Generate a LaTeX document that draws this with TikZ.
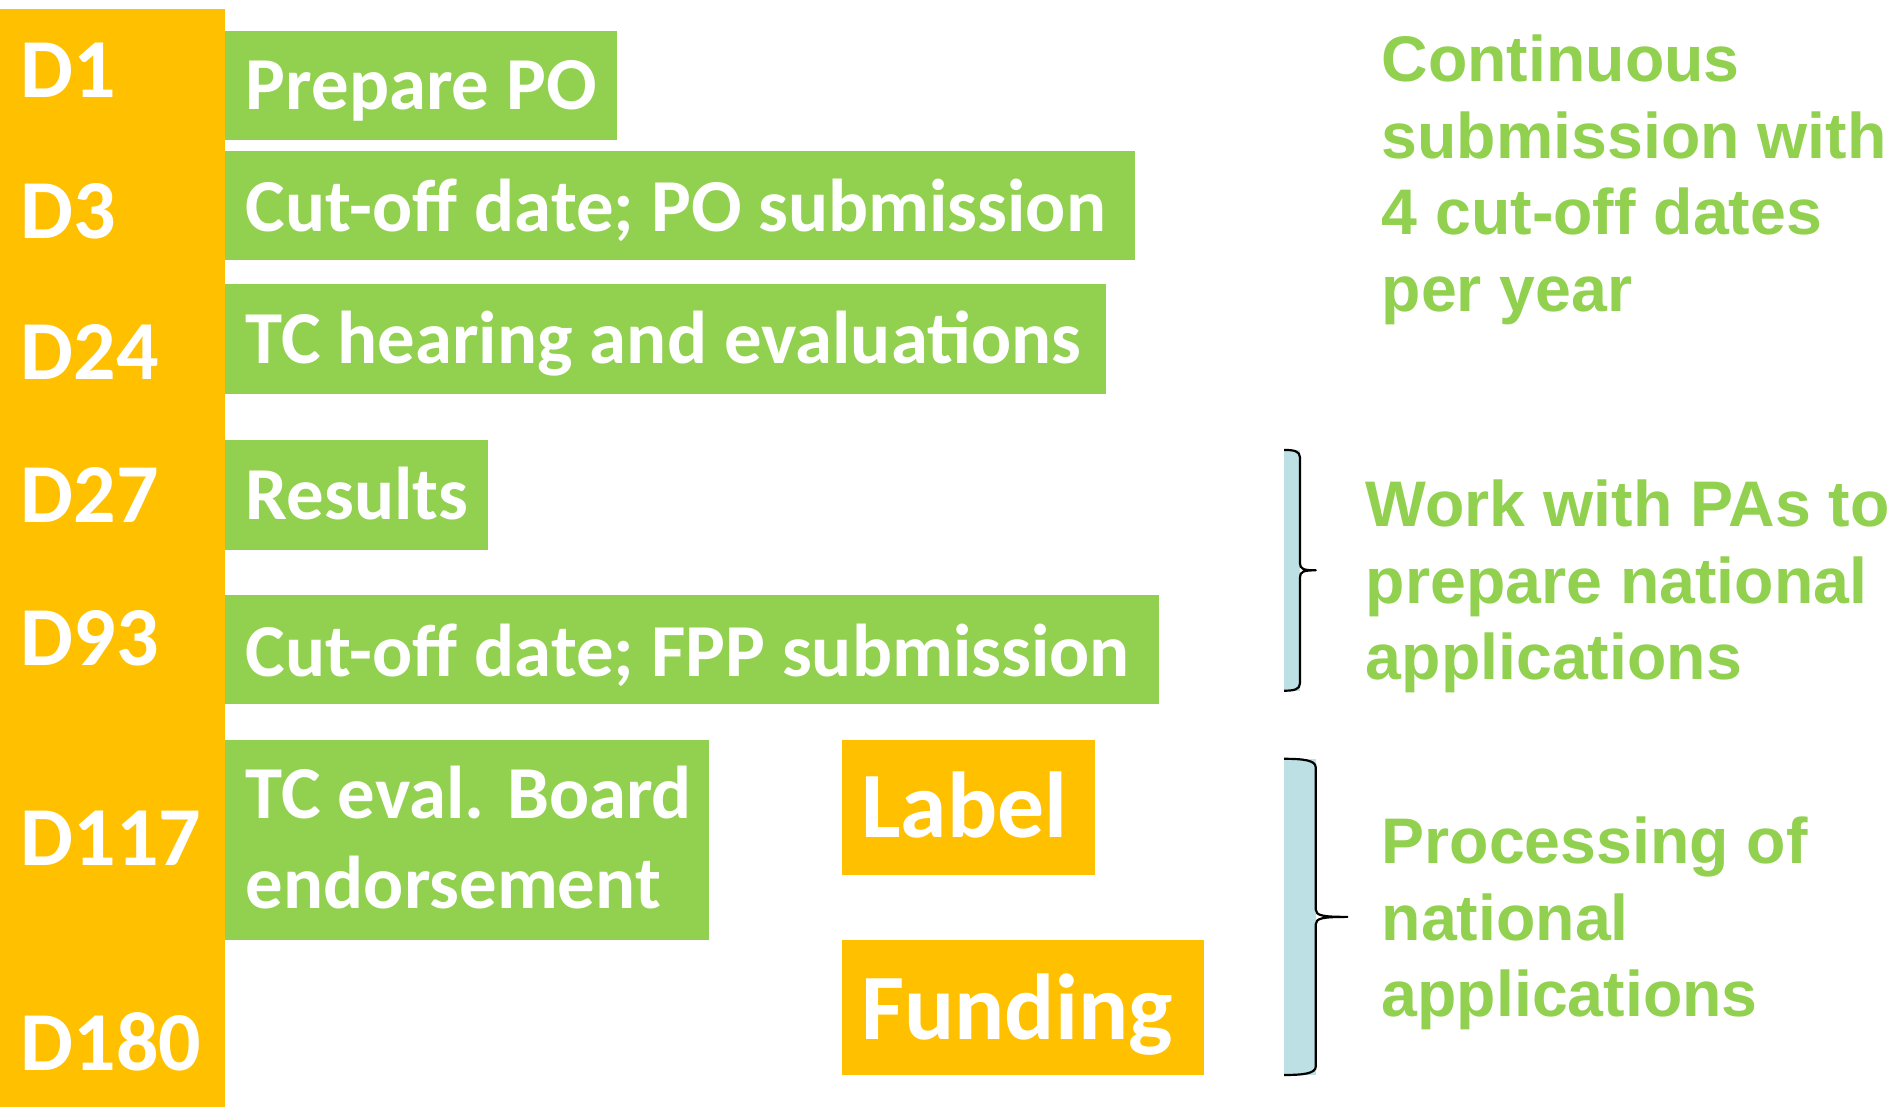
\documentclass[tikz,border=0pt]{standalone}
\usepackage{fontspec}
\setmainfont{Carlito}
\newfontfamily\arialfont{Liberation Sans}
\definecolor{gr}{HTML}{92D050}
\definecolor{og}{HTML}{FFC000}
\definecolor{lb}{RGB}{188,224,227}
\tikzset{
  gbox/.style={fill=gr, draw=none, anchor=north west, inner sep=0pt},
  obox/.style={fill=og, draw=none, anchor=north west, inner sep=0pt},
  btext/.style={text=white, font=\fontsize{61.5}{73}\selectfont\bfseries, inner sep=0pt, anchor=base west},
  dtext/.style={text=white, font=\fontsize{69}{84}\selectfont\bfseries, inner sep=0pt, anchor=base west},
  ltext/.style={text=white, font=\fontsize{77}{92}\selectfont\bfseries, inner sep=0pt, anchor=base west},
  rtext/.style={text=gr, font=\arialfont\fontsize{53}{63}\selectfont\bfseries, inner sep=0pt, anchor=base west, align=left},
  bracefill/.style={fill=lb, draw=none},
  braceline/.style={draw=black, line width=1.8pt, line join=round}
}
\begin{document}
\begin{tikzpicture}[x=1pt,y=-1pt]
\useasboundingbox (0,0) rectangle (1560,910);
% timeline bar
\node[obox, minimum width=185, minimum height=903] (bar) at (0,7) {};
% day labels
\node[dtext] (d1) at (17,80) {D1};
\node[dtext] (d3) at (17,196) {D3};
\node[dtext] (d24) at (17,312) {D24};
\node[dtext] (d27) at (17,430) {D27};
\node[dtext] (d93) at (17,547) {D93};
\node[dtext] (d117) at (17,712) {D117};
\node[dtext] (d180) at (17,880) {D180};
% green boxes
\node[gbox, minimum width=322, minimum height=90] (b1) at (185,25) {};
\node[btext] (t1) at (202,90) {Prepare PO};
\node[gbox, minimum width=748, minimum height=90] (b2) at (185,124) {};
\node[btext] (t2) at (202,190) {Cut-off date; PO submission};
\node[gbox, minimum width=724, minimum height=91] (b3) at (185,233) {};
\node[btext] (t3) at (202,299) {TC hearing and evaluations};
\node[gbox, minimum width=216, minimum height=90] (b4) at (185,362) {};
\node[btext] (t4) at (202,427) {Results};
\node[gbox, minimum width=768, minimum height=90] (b5) at (185,489) {};
\node[btext] (t5) at (202,556) {Cut-off date; FPP submission};
\node[gbox, minimum width=398, minimum height=165] (b6) at (185,608) {};
\node[btext] (t6a) at (202,673) {TC eval. Board};
\node[btext] (t6b) at (202,747) {endorsement};
% orange boxes
\node[obox, minimum width=208, minimum height=111] (lab) at (692,608) {};
\node[ltext] (tl) at (708,689) {Label};
\node[obox, minimum width=298, minimum height=111] (fun) at (692,773) {};
\node[ltext] (tf) at (708,855) {Funding};
% right texts
\node[rtext] (r1) at (1136,256) {Continuous\\submission with\\4 cut-off dates\\per year};
\node[rtext] (r2) at (1123,559) {Work with PAs to\\prepare national\\applications};
\node[rtext] (r3) at (1136,836) {Processing of\\national\\applications};
% brace 1
\fill[bracefill] (1056,370) rectangle (1069,568);
\draw[braceline] (1056,370) .. controls (1064,370) and (1069,371) .. (1069,376)
  -- (1069,463) .. controls (1069,468) and (1072,469) .. (1082,469)
  .. controls (1072,469) and (1069,470) .. (1069,475)
  -- (1069,562) .. controls (1069,567) and (1064,568) .. (1056,568);
% brace 2
\fill[bracefill] (1056,624) rectangle (1082,884);
\draw[braceline] (1056,624) .. controls (1071,624) and (1082,625) .. (1082,631)
  -- (1082,748) .. controls (1082,753) and (1088,754) .. (1108,754)
  .. controls (1088,754) and (1082,755) .. (1082,760)
  -- (1082,877) .. controls (1082,883) and (1071,884) .. (1056,884);
\end{tikzpicture}
\end{document}
